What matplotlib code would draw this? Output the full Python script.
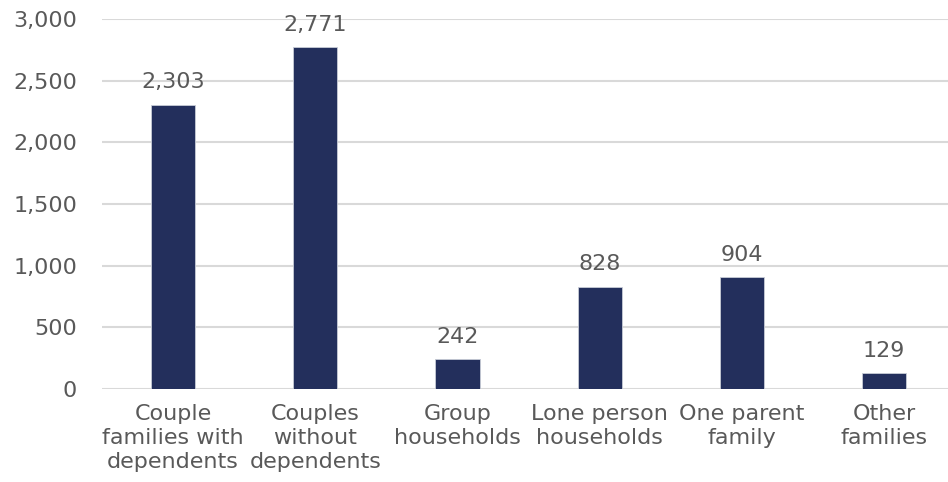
import numpy as np
import matplotlib.pyplot as plt

categories = ["Couple\nfamilies with\ndependents", "Couples\nwithout\ndependents",
              "Group\nhouseholds", "Lone person\nhouseholds", "One parent\nfamily",
              "Other\nfamilies"]
values = [2303, 2771, 242, 828, 904, 129]
yticks = [0, 500, 1000, 1500, 2000, 2500, 3000]

bar_color = "#232F5C"
text_color = "#595959"
grid_color = "#D9D9D9"

plt.rcParams["font.family"] = ["DejaVu Sans"]

fig = plt.figure(figsize=(9.48, 4.82), dpi=100)
ax = fig.add_axes([0.1076, 0.193, 0.8924, 0.7676])

x = np.arange(len(categories))
ax.bar(x, values, width=0.31, color=bar_color, edgecolor="#C8CCD6", linewidth=0.6, zorder=3)

# etiquetas de valor encima de cada barra
for xi, v in zip(x, values):
    ax.annotate(f"{v:,}", (xi, v), xytext=(0, 9), textcoords="offset points",
                ha="center", va="bottom", fontsize=16, color=text_color)

ax.set_ylim(0, 3000)
ax.set_xlim(-0.5, 5.45)
ax.set_yticks(yticks)
ax.set_yticklabels([f"{t:,}" for t in yticks], fontsize=16, color=text_color)
ax.set_xticks(x)
ax.set_xticklabels(categories, fontsize=16, color=text_color, linespacing=1.25)
ax.tick_params(axis="both", length=0)
ax.tick_params(axis="y", pad=18)
ax.tick_params(axis="x", pad=11)

ax.grid(axis="y", color=grid_color, linewidth=1.5, zorder=0)
for s in ax.spines.values():
    s.set_visible(False)

fig.savefig("out.png", dpi=100)
